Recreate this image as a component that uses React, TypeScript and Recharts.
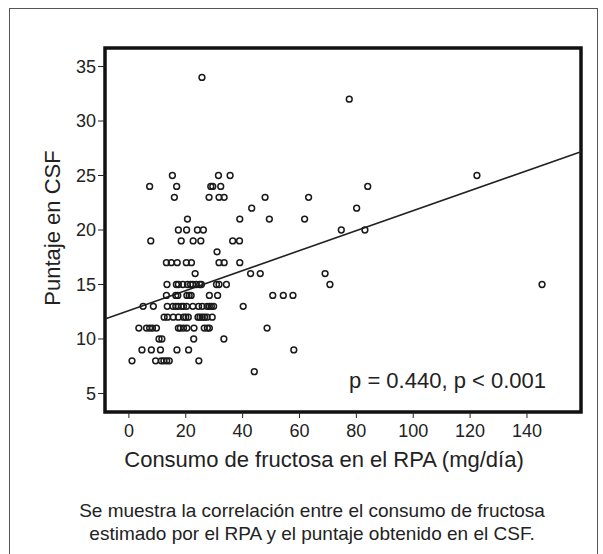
import React from 'react'
import { ScatterChart, Scatter, XAxis, YAxis, ReferenceArea, ReferenceLine } from 'recharts'

// CSF score levels and the fructose intake (mg/día) of each subject at that score
const scoreLevels = [34, 32, 25, 24, 23, 22, 21, 20, 19, 18, 17, 16, 15, 14, 13, 12, 11, 10, 9, 8, 7]
const intakeByScore = [
  [25.7],
  [77.5],
  [15.3, 31.5, 35.6, 122.4],
  [7.3, 16.8, 28.8, 29.5, 32.3, 84.0],
  [16.0, 28.2, 31.7, 33.5, 47.9, 63.2],
  [43.2, 80.1],
  [20.6, 39.0, 49.4, 61.8],
  [17.4, 20.3, 24.1, 26.2, 74.7, 83.0],
  [7.7, 18.4, 22.6, 25.3, 36.5, 38.9],
  [31.0],
  [13.2, 14.9, 17.0, 20.2, 22.0, 31.7, 33.5, 39.0],
  [23.3, 42.8, 46.2, 69.0],
  [13.4, 16.7, 17.4, 19.0, 20.6, 21.7, 22.5, 23.7, 24.9, 25.5, 30.8, 31.7, 34.3, 70.7, 145.3],
  [13.2, 16.5, 17.2, 20.4, 21.2, 21.9, 28.3, 31.2, 50.6, 54.3, 57.7],
  [5.0, 8.6, 13.5, 15.5, 16.5, 17.3, 18.5, 19.2, 20.3, 22.5, 24.5, 25.8, 27.5, 28.3, 29.0, 29.8, 40.2],
  [12.4, 13.6, 15.6, 17.4, 19.2, 20.0, 20.9, 24.3, 25.0, 25.8, 26.6, 27.5, 29.3],
  [3.5, 6.2, 7.3, 8.3, 9.7, 17.4, 18.1, 19.2, 20.4, 22.9, 26.5, 27.6, 28.3, 48.6],
  [10.6, 11.6, 22.8, 33.4],
  [4.6, 7.9, 11.1, 16.9, 21.0, 58.0],
  [1.1, 9.4, 11.4, 12.3, 13.3, 14.2, 24.6],
  [44.1],
]

const xTicks = [0, 20, 40, 60, 80, 100, 120, 140]
const yTicks = [5, 10, 15, 20, 25, 30, 35]

// fitted line
const fitIntercept = 12.61
const fitSlope = 0.0917

const X_MIN = -8.4
const X_MAX = 159
const Y_MIN = 3.3
const Y_MAX = 36.7

const font = '"Liberation Sans", Arial, Helvetica, sans-serif'
const ink = '#222'

const points = scoreLevels.flatMap((score, i) =>
  intakeByScore[i].map((intake) => ({ x: intake, y: score }))
)

const OpenCircle = (props: any) => {
  const { cx, cy } = props
  return <circle cx={cx} cy={cy} r={2.9} fill="none" stroke="#1a1a1a" strokeWidth={1.5} />
}

export default function App() {
  return (
    <div style={{ position: 'absolute', left: 0, top: 0, width: 603, height: 554, background: '#fff', overflow: 'hidden', fontFamily: font }}>
      <div
        style={{
          position: 'absolute', left: 9, top: 8, width: 587, height: 600,
          borderLeft: '1.5px solid #555', borderTop: '1.5px solid #555', borderRight: '1.5px solid #555',
        }}
      />
      <div style={{ position: 'absolute', left: 0, top: 0 }}>
        <ScatterChart width={603} height={480} margin={{ top: 48, right: 22, bottom: 0, left: 0 }}>
          <XAxis
            type="number"
            dataKey="x"
            domain={[X_MIN, X_MAX]}
            ticks={xTicks}
            allowDataOverflow
            axisLine={false}
            tickLine={{ stroke: ink }}
            tickSize={6}
            tickMargin={6}
            height={68}
            tick={{ fontSize: 18, fill: ink, fontFamily: font }}
            label={{
              content: (p: any) => {
                const vb = p.viewBox
                return (
                  <text x={vb.x + vb.width / 2 - 19} y={vb.y + 55} textAnchor="middle" fontSize={22} fill={ink} fontFamily={font}>
                    Consumo de fructosa en el RPA (mg/día)
                  </text>
                )
              },
            }}
          />
          <YAxis
            type="number"
            dataKey="y"
            domain={[Y_MIN, Y_MAX]}
            ticks={yTicks}
            allowDataOverflow
            axisLine={false}
            tickLine={{ stroke: ink }}
            tickSize={7}
            width={105}
            tick={{ fontSize: 18, fill: ink, fontFamily: font }}
            label={{
              content: (p: any) => {
                const vb = p.viewBox
                const cx = 60
                const cy = vb.y + vb.height / 2 - 2
                return (
                  <text x={cx} y={cy} textAnchor="middle" fontSize={22} fill={ink} fontFamily={font} transform={`rotate(-90, ${cx}, ${cy})`}>
                    Puntaje en CSF
                  </text>
                )
              },
            }}
          />
          <ReferenceLine
            segment={[
              { x: X_MIN, y: fitIntercept + fitSlope * X_MIN },
              { x: X_MAX, y: fitIntercept + fitSlope * X_MAX },
            ]}
            stroke={ink}
            strokeWidth={1.6}
          />
          <Scatter data={points} shape={OpenCircle} isAnimationActive={false} />
          <ReferenceArea
            x1={X_MIN}
            x2={X_MAX}
            y1={Y_MIN}
            y2={Y_MAX}
            fill="none"
            fillOpacity={0}
            stroke="#111"
            strokeWidth={3.5}
            label={{
              content: (p: any) => {
                const vb = p.viewBox
                return (
                  <text x={vb.x + vb.width - 35} y={vb.y + vb.height - 24} textAnchor="end" fontSize={22} fill={ink} fontFamily={font}>
                    p = 0.440, p &lt; 0.001
                  </text>
                )
              },
            }}
          />
        </ScatterChart>
      </div>
      <div
        style={{
          position: 'absolute', left: 0, top: 499, width: 624, textAlign: 'center',
          fontSize: 19, lineHeight: '23px', color: ink, fontFamily: font,
        }}
      >
        Se muestra la correlación entre el consumo de fructosa
        <br />
        estimado por el RPA y el puntaje obtenido en el CSF.
      </div>
    </div>
  )
}
